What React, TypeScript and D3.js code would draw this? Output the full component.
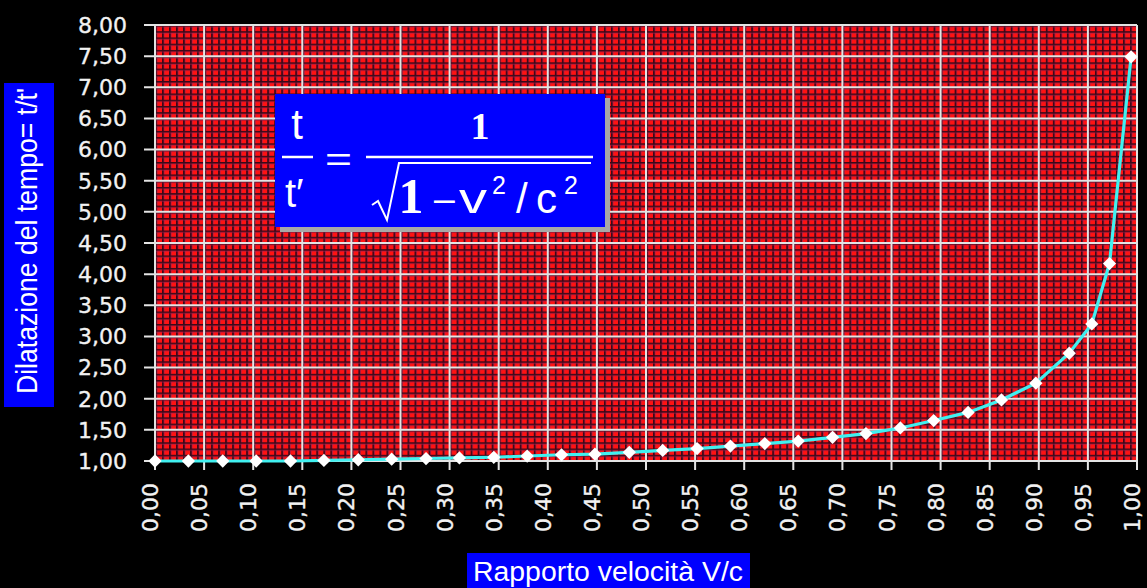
import React, { useEffect } from 'react';
import * as d3 from 'd3';

const W = 1147;
const H = 588;

// velocity ratio v/c of each point
const vRatio = [0.0, 0.034, 0.069, 0.103, 0.138, 0.172, 0.207, 0.241, 0.276, 0.31, 0.345, 0.379, 0.414, 0.448, 0.483, 0.517, 0.552, 0.586, 0.621, 0.655, 0.69, 0.724, 0.759, 0.793, 0.828, 0.862, 0.897, 0.931, 0.954, 0.972, 0.994];
// time dilation t/t'
const dilation = [1.0, 1.0, 1.0, 1.0, 1.0, 1.01, 1.02, 1.03, 1.04, 1.05, 1.06, 1.08, 1.1, 1.11, 1.14, 1.17, 1.2, 1.24, 1.28, 1.32, 1.38, 1.44, 1.53, 1.65, 1.78, 1.98, 2.25, 2.73, 3.2, 4.17, 7.49];

const xTickValues = [0, 0.05, 0.1, 0.15, 0.2, 0.25, 0.3, 0.35, 0.4, 0.45, 0.5, 0.55, 0.6, 0.65, 0.7, 0.75, 0.8, 0.85, 0.9, 0.95, 1.0];
const xTickLabels = ['0,00', '0,05', '0,10', '0,15', '0,20', '0,25', '0,30', '0,35', '0,40', '0,45', '0,50', '0,55', '0,60', '0,65', '0,70', '0,75', '0,80', '0,85', '0,90', '0,95', '1,00'];
const yTickValues = [1, 1.5, 2, 2.5, 3, 3.5, 4, 4.5, 5, 5.5, 6, 6.5, 7, 7.5, 8];
const yTickLabels = ['1,00', '1,50', '2,00', '2,50', '3,00', '3,50', '4,00', '4,50', '5,00', '5,50', '6,00', '6,50', '7,00', '7,50', '8,00'];

const yTitle = "Dilatazione del tempo= t/t'";
const xTitle = 'Rapporto velocità V/c';

const PL = 155, PR = 1137, PT = 25, PB = 461;

export default function App() {
  useEffect(() => {
    document.body.style.margin = '0';
    document.body.style.background = '#000';
  }, []);

  const x = d3.scaleLinear().domain([0, 1]).range([PL, PR]);
  const y = d3.scaleLinear().domain([1, 8]).range([PB, PT]);

  const pts = vRatio.map((v, i) => [v, dilation[i]] as [number, number]);
  const line = d3.line<[number, number]>().x(d => x(d[0])).y(d => y(d[1]))(pts) || '';
  const marker = d3.symbol().type(d3.symbolSquare).size(88)() || '';

  const pw = (x(0.05) - x(0)) / 7;
  const ph = (y(1) - y(1.5)) / 5;

  const tickFont = { fontFamily: 'DejaVu Sans, Verdana, sans-serif', fontSize: 22, fill: '#f2f2f2', stroke: '#f2f2f2', strokeWidth: 0.35 } as const;
  const sans = 'Liberation Sans, Arial, sans-serif';
  const serif = 'Liberation Serif, Times New Roman, serif';

  return (
    <svg width={W} height={H} viewBox={`0 0 ${W} ${H}`} style={{ display: 'block', background: '#000' }}>
      <defs>
        <pattern id="bg" patternUnits="userSpaceOnUse" x={PL} y={PT} width={pw} height={ph}>
          <rect width={pw} height={ph} fill="#ff1212" />
          <rect x={0} y={0} width={1.7} height={ph} fill="#3a0818" />
          <rect x={1.7} y={0} width={0.7} height={ph} fill="#a02050" />
          <rect x={0} y={0} width={pw} height={1.6} fill="#3a0818" />
          <rect x={0} y={1.6} width={pw} height={0.6} fill="#a02050" />
        </pattern>
      </defs>
      <rect width={W} height={H} fill="#000" />
      <rect x={PL} y={PT} width={PR - PL} height={PB - PT} fill="url(#bg)" />

      {/* grid */}
      {yTickValues.map(v => (
        <line key={'gy' + v} x1={144} x2={PR} y1={y(v)} y2={y(v)} stroke="#e4e4e4" strokeWidth={2} />
      ))}
      {xTickValues.map(v => (
        <line key={'gx' + v} x1={x(v)} x2={x(v)} y1={PT} y2={PB + 9} stroke="#e4e4e4" strokeWidth={2} />
      ))}

      {/* y tick labels */}
      {yTickValues.map((v, i) => (
        <text key={'ly' + v} x={127} y={y(v)} dy="0.36em" textAnchor="end" {...tickFont}>{yTickLabels[i]}</text>
      ))}
      {/* x tick labels */}
      {xTickValues.map((v, i) => (
        <text key={'lx' + v} transform={`translate(${x(v) + 3},483) rotate(-90)`} textAnchor="end" {...tickFont}>{xTickLabels[i]}</text>
      ))}

      {/* series */}
      <path d={line} fill="none" stroke="#40f0f0" strokeWidth={3.2} />
      {pts.map((d, i) => (
        <path key={'m' + i} d={marker} transform={`translate(${x(d[0])},${y(d[1])}) rotate(45)`} fill="#ffffff" />
      ))}

      {/* formula box */}
      <rect x={280} y={98} width={330} height={134} fill="#a8a8a8" />
      <rect x={275} y={94} width={330} height={133} fill="#0000ff" />
      <g fill="#ffffff">
        <text x={297} y={139} textAnchor="middle" fontFamily={sans} fontSize={42}>t</text>
        <line x1={282} x2={313} y1={157} y2={157} stroke="#fff" strokeWidth={2.5} />
        <text x={285} y={207} fontFamily={sans} fontSize={40}>t′</text>
        <text x={325} y={171} fontFamily={sans} fontSize={34} textLength={27} lengthAdjust="spacingAndGlyphs">=</text>
        <text x={480} y={139} textAnchor="middle" fontFamily={serif} fontWeight="bold" fontSize={38}>1</text>
        <line x1={366} x2={593} y1={157} y2={157} stroke="#fff" strokeWidth={2.5} />
        <path d="M372,205 L378,201 L387,220 L399,163 L591,163" fill="none" stroke="#fff" strokeWidth={2} strokeLinejoin="miter" />
        <text x={411} y={213} textAnchor="middle" fontFamily={serif} fontWeight="bold" fontSize={50}>1</text>
        <text x={432} y={213} fontFamily={sans} fontSize={34} textLength={25} lengthAdjust="spacingAndGlyphs">−</text>
        <text x={459} y={213} fontFamily={sans} fontSize={42} textLength={28} lengthAdjust="spacingAndGlyphs">v</text>
        <text x={492} y={194} fontFamily={sans} fontSize={25}>2</text>
        <text x={516} y={213} fontFamily={sans} fontSize={42}>/</text>
        <text x={536} y={213} fontFamily={sans} fontSize={42}>c</text>
        <text x={564} y={194} fontFamily={sans} fontSize={25}>2</text>
      </g>

      {/* axis titles */}
      <rect x={4} y={83} width={50} height={324} fill="#0000ff" />
      <text transform="translate(37,241) rotate(-90)" textAnchor="middle" fontFamily={sans} fontSize={29} fill="#fff" textLength={306} lengthAdjust="spacingAndGlyphs">{yTitle}</text>
      <rect x={467} y={553} width={283} height={40} fill="#0000ff" />
      <text x={608} y={581} textAnchor="middle" fontFamily={sans} fontSize={27} fill="#fff" textLength={270} lengthAdjust="spacingAndGlyphs">{xTitle}</text>
    </svg>
  );
}
